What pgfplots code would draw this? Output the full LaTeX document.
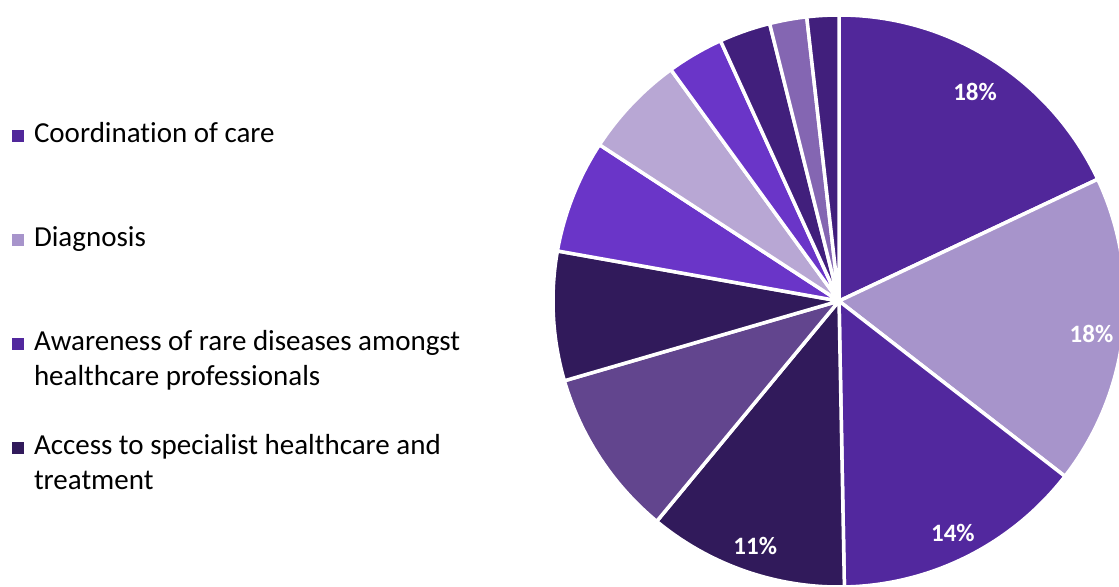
\documentclass[border=0pt]{standalone}
\usepackage{fontspec}
\setmainfont{Carlito}[Ligatures=NoCommon]
\usepackage{pgfplots}
\usepackage{pgfplotstable}
\pgfplotsset{compat=1.18}

\definecolor{cA}{HTML}{51279A}
\definecolor{cB}{HTML}{A794CB}
\definecolor{cC}{HTML}{52289E}
\definecolor{cD}{HTML}{311A5B}
\definecolor{cE}{HTML}{62458E}
\definecolor{cF}{HTML}{311A5B}
\definecolor{cG}{HTML}{6A35C8}
\definecolor{cH}{HTML}{B8A7D4}
\definecolor{cI}{HTML}{6A35C8}
\definecolor{cJ}{HTML}{411F7C}
\definecolor{cK}{HTML}{8466B2}
\definecolor{cL}{HTML}{411F7C}

\tikzset{pielabel/.style={text=white, yshift=-2.5pt,
  font=\bfseries\fontsize{12.5}{15}\selectfont}}

% share (%), slice colour, printed label (0 = none); clockwise from 12 o'clock
\pgfplotstableread{
value color lab
18.0  cA    18
17.5  cB    18
14.2  cC    14
11.3  cD    11
9.5   cE    0
7.3   cF    0
6.4   cG    0
5.8   cH    0
3.2   cI    0
2.9   cJ    0
2.1   cK    0
1.8   cL    0
}\piedata

\begin{document}
\begin{tikzpicture}
\begin{axis}[
  name=pie,
  scale only axis, width=559.5pt, height=293pt,
  xmin=0, xmax=1119, ymin=0, ymax=586,
  hide axis, clip=true,
  legend image code/.code={\fill[#1, draw=none] (0pt,0pt) rectangle (6pt,6pt);},
  legend style={draw=none, fill=none, inner sep=0pt, outer sep=0pt,
    at={(axis cs:12,468)}, anchor=north west,
    row sep=0pt, column sep=5pt,
    cells={anchor=base west},
    nodes={inner sep=0pt, text height=12pt, text depth=40pt,
      font=\fontsize{14.5}{17.7}\selectfont}},
]
\pgfplotstablegetrowsof{\piedata}
\pgfmathtruncatemacro\lastrow{\pgfplotsretval-1}
\def\cum{0}
\pgfplotsforeachungrouped \i in {0,...,\lastrow}{%
  \pgfplotstablegetelem{\i}{value}\of\piedata \let\v\pgfplotsretval
  \pgfplotstablegetelem{\i}{color}\of\piedata \let\c\pgfplotsretval
  \pgfplotstablegetelem{\i}{lab}\of\piedata \let\l\pgfplotsretval
  \pgfmathsetmacro\a{90-3.6*\cum}
  \pgfmathsetmacro\b{90-3.6*(\cum+\v)}
  \pgfmathsetmacro\m{(\a+\b)/2}
  \edef\temp{\noexpand\fill[\c, draw=white, line width=1.75pt, line join=round]
    (axis cs:839,285) -- ++(\a:143pt) arc[start angle=\a, end angle=\b, radius=143pt] -- cycle;}
  \temp
  \ifnum\l>0
    \edef\temp{\noexpand\node[pielabel] at ([shift={(\m:127pt)}]axis cs:839,285) {\l\noexpand\%};}
    \temp
  \fi
  \pgfmathsetmacro\cum{\cum+\v}
}
\addlegendimage{fill=cA}
\addlegendentry{Coordination of care}
\addlegendimage{fill=cB}
\addlegendentry{Diagnosis}
\addlegendimage{fill=cC}
\addlegendentry{\begin{tabular}[t]{@{}l@{}}Awareness of rare diseases amongst\\healthcare professionals\end{tabular}}
\addlegendimage{fill=cD}
\addlegendentry{\begin{tabular}[t]{@{}l@{}}Access to specialist healthcare and\\treatment\end{tabular}}
\end{axis}
\pgfresetboundingbox
\path[use as bounding box] (pie.south west) rectangle (pie.north east);
\end{tikzpicture}
\end{document}
